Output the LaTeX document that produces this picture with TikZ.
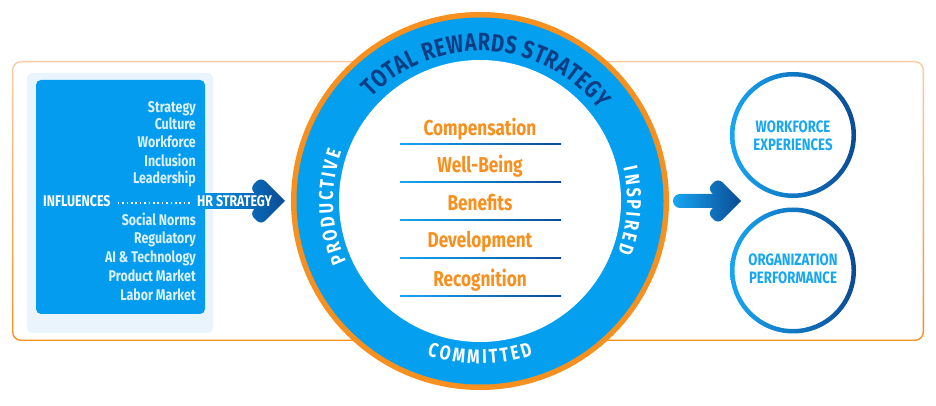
\documentclass[tikz,border=0pt]{standalone}
\usepackage{fontspec}
\newfontfamily\condf[FakeStretch=0.8]{Fira Sans}
\newcommand\cf[1]{\condf\bfseries\fontsize{#1}{#1}\selectfont}
\usetikzlibrary{decorations.text}
\definecolor{boxblue}{HTML}{039CEE}
\definecolor{ringblue}{HTML}{049FEF}
\definecolor{lightbg}{HTML}{E9F4FC}
\definecolor{darkb}{HTML}{0B4A94}
\definecolor{navyb}{HTML}{0D3E85}
\definecolor{orng}{HTML}{F7901E}
\definecolor{lorng}{HTML}{FDCBA3}
\definecolor{listtxt}{HTML}{DDF0FD}
\definecolor{lightb}{HTML}{17A6F2}
\definecolor{itemor}{HTML}{F7901E}
\begin{document}
\begin{tikzpicture}[x=1pt,y=1pt,
  listitem/.style={anchor=base east, text=listtxt, font=\cf{15.5}, inner sep=0pt},
  keyword/.style={text=white, font=\cf{15.5}, inner sep=0pt},
  rewitem/.style={anchor=base, text=itemor, font=\cf{21.5}, inner sep=0pt},
  outtxt/.style={anchor=base, text=lightb, font=\cf{16.5}, inner sep=0pt},
  dotline/.style={white, line width=1.6pt, dash pattern=on 1.6pt off 2.8pt},
  gline/.style={left color=lightb, right color=darkb},
]
\useasboundingbox (0,0) rectangle (936,406);
\fill[white] (0,0) rectangle (936,406);

% outer orange frame
\shade[top color=lorng, bottom color=orng, rounded corners=9pt] (12,65) rectangle (924,345);
\fill[white, rounded corners=8pt] (13.4,66.4) rectangle (922.6,343.6);

% influences boxes
\fill[lightbg, rounded corners=6pt] (27,73) rectangle (213,333);
\fill[boxblue, rounded corners=5pt] (36,92) rectangle (205,326);

\node[listitem] (l1) at (196,293) {Strategy};
\node[listitem] (l2) at (196,276) {Culture};
\node[listitem] (l3) at (196,258) {Workforce};
\node[listitem] (l4) at (196,239.5) {Inclusion};
\node[listitem] (l5) at (196,222) {Leadership};
\node[listitem] (l6) at (196,180) {Social Norms};
\node[listitem] (l7) at (196,162) {Regulatory};
\node[listitem] (l8) at (196,143) {AI \& Technology};
\node[listitem] (l9) at (196,124) {Product Market};
\node[listitem] (l10) at (196,105) {Labor Market};

% HR arrow
\begin{scope}
  \clip (195,197.7) rectangle (263,212.7);
  \shade[left color=boxblue, right color=darkb] (195,175) rectangle (286,235);
\end{scope}
\begin{scope}
  \clip (285,205) [rounded corners=6pt] -- (261,229) -- (249.7,217.7) [sharp corners] -- (262.4,205) [rounded corners=6pt] -- (249.7,192.3) -- (261,181) [sharp corners] -- cycle;
  \shade[left color=boxblue, right color=darkb] (195,175) rectangle (286,235);
\end{scope}

\node[keyword, anchor=base west] (infl) at (43,199.3) {INFLUENCES};
\node[keyword, anchor=base west] (hr) at (197,199.3) {HR STRATEGY};
\draw[dotline] ([xshift=7pt,yshift=3.5pt]infl.base east) -- ([xshift=-7pt,yshift=3.5pt]hr.base west);

% main circle
\coordinate (c) at (480,205);
\fill[orng] (c) circle[radius=189];
\fill[ringblue] (c) circle[radius=183.5];
\fill[white] (c) circle[radius=141];

\path[decorate, decoration={text along path, text align={fit to path},
  text={|\cf{25}\color{navyb}|TOTAL REWARDS STRATEGY}}]
  ([shift={(136.5:150)}]c) arc[start angle=136.5, end angle=37.5, radius=150];
\path[decorate, decoration={text along path, text align={fit to path},
  text={|\cf{20}\color{white}|PRODUCTIVE}}]
  ([shift={(204.5:147)}]c) arc[start angle=204.5, end angle=160.5, radius=147];
\path[decorate, decoration={text along path, text align={fit to path},
  text={|\cf{20}\color{white}|INSPIRED}}]
  ([shift={(13:147)}]c) arc[start angle=13, end angle=-20.3, radius=147];
\path[decorate, decoration={text along path, text align={fit to path},
  text={|\cf{20}\color{white}|COMMITTED}}]
  ([shift={(251:163)}]c) arc[start angle=251, end angle=289, radius=163];

\node[rewitem] (r1) at (480,270) {Compensation};
\node[rewitem] (r2) at (480,233) {Well-Being};
\node[rewitem] (r3) at (480,195) {Benefits};
\node[rewitem] (r4) at (480,158) {Development};
\node[rewitem] (r5) at (480,119) {Recognition};
\shade[gline] (400,261.2) rectangle (561,262.9);
\shade[gline] (400,223.2) rectangle (561,224.9);
\shade[gline] (400,185.2) rectangle (561,186.9);
\shade[gline] (400,147.2) rectangle (561,148.9);
\shade[gline] (400,109.2) rectangle (561,110.9);

% output arrow
\begin{scope}
  \clip (726,198) -- (680,198) arc[start angle=270, end angle=90, radius=7] -- (726,212) -- cycle;
  \shade[left color=lightb, right color=darkb] (673,175) rectangle (742,235);
\end{scope}
\begin{scope}
  \clip (741,205) [rounded corners=6pt] -- (718,228) -- (707.4,217.4) [sharp corners] -- (719.8,205) [rounded corners=6pt] -- (707.4,192.6) -- (718,182) [sharp corners] -- cycle;
  \shade[left color=lightb, right color=darkb] (673,175) rectangle (742,235);
\end{scope}

% output circles
\shade[left color=lightb, right color=darkb] (856,271) arc[start angle=0, end angle=360, radius=63] -- (851.5,271) arc[start angle=360, end angle=0, radius=58.5] -- cycle;
\shade[left color=lightb, right color=darkb] (856,135.5) arc[start angle=0, end angle=360, radius=63] -- (851.5,135.5) arc[start angle=360, end angle=0, radius=58.5] -- cycle;
\node[outtxt] (w1) at (793,273) {WORKFORCE};
\node[outtxt] (w2) at (793,255) {EXPERIENCES};
\node[outtxt] (o1) at (793,140) {ORGANIZATION};
\node[outtxt] (o2) at (793,122) {PERFORMANCE};
\end{tikzpicture}
\end{document}
